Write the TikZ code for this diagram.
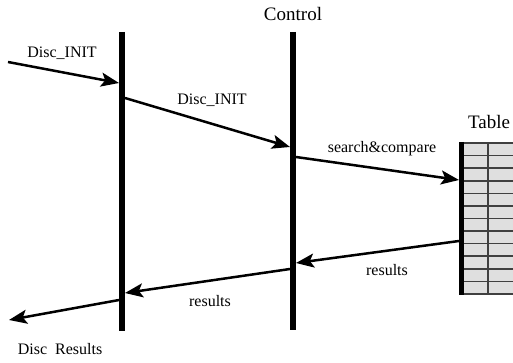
\documentclass[tikz,border=0pt]{standalone}
\usepackage{fontspec}
\setmainfont{Liberation Serif}[Scale=1.0]
\usetikzlibrary{arrows.meta}

\begin{document}
\begin{tikzpicture}[x=1pt, y=-1pt,
  life/.style={line width=6pt},
  msg/.style={line width=2.5pt, -{Stealth[length=18pt,width=14pt,inset=4pt]}},
  lbl/.style={font=\fontsize{16}{18}\selectfont, inner sep=0pt},
  head/.style={font=\fontsize{19}{21}\selectfont, inner sep=0pt}]
\useasboundingbox (0,0) rectangle (513,363);

% lifelines
\draw[life] (122,32) -- (122,331);
\draw[life] (293,32) -- (293,330);
\node[head] (ctrl) at (293,14) {Control};

% table
\fill[gray!25] (462,143) rectangle (513,294);
\foreach \r in {0,...,12}
  \draw[gray!50!black, line width=1.6pt] (462,{143+12.58*\r}) -- (513,{143+12.58*\r});
\draw[gray!50!black, line width=1.6pt] (488,143) -- (488,294);
\draw[line width=5pt] (461.5,142) -- (461.5,295);
\node[head] (tbl) at (489,122) {Table};

% end points
\coordinate (in0) at (8,62);
\coordinate (in1) at (119,83);
\coordinate (a1) at (125,98);
\coordinate (a2) at (290,147);
\coordinate (b1) at (296,157);
\coordinate (b2) at (459,180);
\coordinate (c1) at (459,241);
\coordinate (c2) at (296,263);
\coordinate (d1) at (290,269);
\coordinate (d2) at (125,293);
\coordinate (e1) at (119,300);
\coordinate (out) at (9,320);

\draw[msg] (in0) -- (in1);
\draw[msg] (a1) -- (a2);
\draw[msg] (b1) -- (b2);
\draw[msg] (c1) -- (c2);
\draw[msg] (d1) -- (d2);
\draw[msg] (e1) -- (out);

\node[lbl] (l1) at (62,53) {Disc\_INIT};
\node[lbl] (l2) at (212,100) {Disc\_INIT};
\node[lbl] (l3) at (382,149) {search\&compare};
\node[lbl] (l4) at (387,270) {results};
\node[lbl] (l5) at (210,301) {results};
\node[lbl] (l6) at (60,349) {Disc\ \ Results};
\end{tikzpicture}
\end{document}
